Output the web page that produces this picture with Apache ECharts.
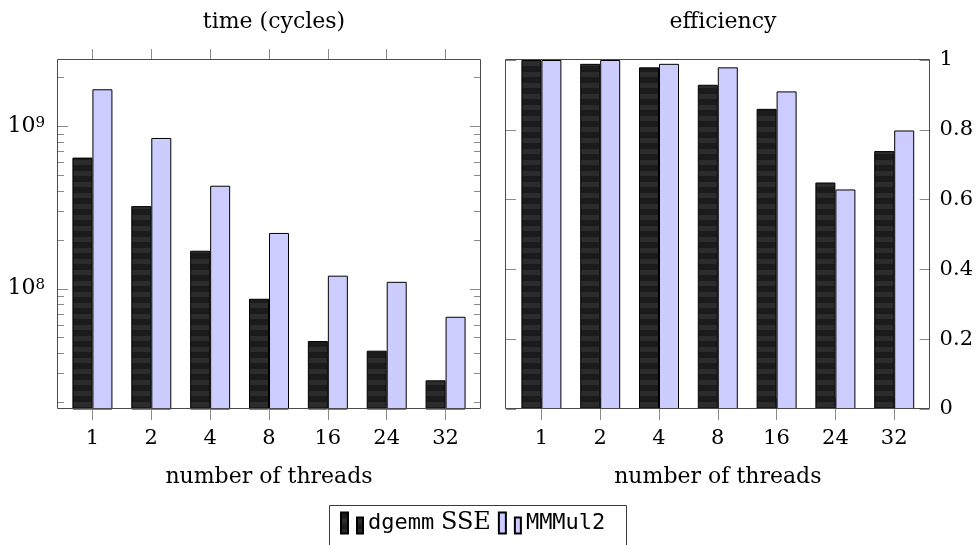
<!DOCTYPE html>
<html>
<head>
<meta charset="utf-8">
<script src="https://cdn.jsdelivr.net/npm/echarts@6/dist/echarts.min.js"></script>
<style>
  html, body { margin: 0; padding: 0; background: #ffffff; }
  #chart { width: 976px; height: 545px; }
</style>
</head>
<body>
<div id="chart"></div>
<script>
// Thread counts shown on both x axes
const threads = ['1', '2', '4', '8', '16', '24', '32'];

// Run time in cycles (log scale)
const timeDgemm = [6.41e8, 3.22e8, 1.71e8, 8.65e7, 4.75e7, 4.14e7, 2.72e7];
const timeMMMul = [1.69e9, 8.47e8, 4.30e8, 2.20e8, 1.20e8, 1.10e8, 6.70e7];

// Parallel efficiency
const effDgemm = [1.0, 0.989, 0.979, 0.929, 0.860, 0.649, 0.739];
const effMMMul = [1.0, 1.0, 0.989, 0.979, 0.910, 0.629, 0.798];

// Axis ranges and ticks
const timeRange = [1.81e7, 2.56e9];
const timeDecades = [7, 8, 9];
const effRange = [0, 1];
const effStep = 0.2;

const seriesNames = ['dgemm SSE', 'MMMul2'];

const SERIF = 'DejaVu Serif';
const MONO = 'DejaVu Sans Mono';
const FS = 21;
const NAME_FS = 22;
const TICK = '#8a8a8a';
const FRAME = '#4a4a4a';
const INSET = 6;

// Log-axis tick marks: k * 10^d inside the visible range
const timeTicks = [];
timeDecades.forEach(function (d) {
  for (let k = 1; k <= 9; k++) {
    const v = k * Math.pow(10, d);
    if (v >= timeRange[0] && v <= timeRange[1]) timeTicks.push([0, v, k === 1 ? 1 : 0]);
  }
});

// Horizontal stripe fill for the dark bars
function stripePattern() {
  const c = document.createElement('canvas');
  c.width = 4; c.height = 11;
  const g = c.getContext('2d');
  g.fillStyle = '#1b1b1b'; g.fillRect(0, 0, 4, 6);
  g.fillStyle = '#2c2c2c'; g.fillRect(0, 6, 4, 5);
  return c;
}
const darkFill = { image: stripePattern(), repeat: 'repeat' };

const darkStyle = { color: darkFill, borderColor: '#000', borderWidth: 1 };
const lightStyle = { color: '#ccccff', borderColor: '#000', borderWidth: 1 };

const grids = [
  { left: 63, top: 60, width: 412, height: 349 },
  { left: 512, top: 60, width: 412, height: 349 }
];

function catAxis(gridIndex, position, withLabels) {
  return {
    type: 'category',
    gridIndex: gridIndex,
    position: position,
    data: threads,
    axisLine: { show: false },
    axisTick: { show: true, alignWithLabel: true, inside: false, length: 11, lineStyle: { color: TICK, width: 1 } },
    axisLabel: withLabels
      ? { show: true, margin: 19, color: '#000', fontFamily: SERIF, fontSize: FS }
      : { show: false },
    splitLine: { show: false },
    name: withLabels ? 'number of threads' : '',
    nameLocation: 'middle',
    nameGap: 57,
    nameTextStyle: { color: '#000', fontFamily: SERIF, fontSize: NAME_FS }
  };
}

const chart = echarts.init(document.getElementById('chart'), null, { renderer: 'canvas' });

chart.setOption({
  animation: false,
  backgroundColor: '#ffffff',
  title: [
    { text: 'time (cycles)', left: 269, top: 6, textAlign: 'center',
      textStyle: { color: '#000', fontFamily: SERIF, fontSize: NAME_FS, fontWeight: 'normal' } },
    { text: 'efficiency', left: 718, top: 6, textAlign: 'center',
      textStyle: { color: '#000', fontFamily: SERIF, fontSize: NAME_FS, fontWeight: 'normal' } }
  ],
  grid: grids,
  legend: {
    data: seriesNames,
    left: 340,
    top: 511,
    padding: 0,
    itemGap: 7,
    itemWidth: 22,
    itemHeight: 21,
    icon: 'path://M0,0H7V21H0Z M16,5H22V21H16Z',
    textStyle: {
      color: '#000',
      fontFamily: SERIF,
      fontSize: FS,
      rich: {
        m: { fontFamily: MONO, fontSize: 22, color: '#000' },
        s: { fontFamily: SERIF, fontSize: 24, color: '#000' }
      }
    },
    formatter: function (name) {
      return name === 'dgemm SSE' ? '{m|dgemm} {s|SSE}' : '{m|' + name + '}';
    }
  },
  xAxis: [
    catAxis(0, 'bottom', true),
    catAxis(0, 'top', false),
    catAxis(1, 'bottom', true),
    catAxis(1, 'top', false)
  ],
  yAxis: [
    {
      type: 'log',
      logBase: 10,
      gridIndex: 0,
      position: 'left',
      offset: INSET,
      min: timeRange[0],
      max: timeRange[1],
      axisLine: { show: false },
      axisTick: { show: false },
      splitLine: { show: false },
      minorTick: { show: false },
      axisLabel: {
        show: true,
        margin: 12,
        showMinLabel: false,
        showMaxLabel: false,
        color: '#000',
        fontFamily: SERIF,
        formatter: function (v) {
          const e = Math.round(Math.log10(v));
          return '{b|10}{e|' + e + '}';
        },
        rich: {
          b: { fontFamily: SERIF, fontSize: 22, color: '#000', verticalAlign: 'bottom' },
          e: { fontFamily: SERIF, fontSize: 15, color: '#000', verticalAlign: 'top' }
        }
      }
    },
    {
      type: 'value',
      gridIndex: 1,
      position: 'right',
      offset: INSET,
      min: effRange[0],
      max: effRange[1],
      interval: effStep,
      axisLine: { show: false },
      axisTick: { show: true, inside: true, length: 10, lineStyle: { color: TICK, width: 1 } },
      splitLine: { show: false },
      axisLabel: { show: true, margin: 10, color: '#000', fontFamily: SERIF, fontSize: FS }
    },
    {
      type: 'value',
      gridIndex: 1,
      position: 'left',
      offset: INSET,
      min: effRange[0],
      max: effRange[1],
      interval: effStep,
      axisLine: { show: false },
      axisTick: { show: true, inside: true, length: 10, lineStyle: { color: TICK, width: 1 } },
      splitLine: { show: false },
      axisLabel: { show: false }
    }
  ],
  graphic: [
    { type: 'rect', z: 50, silent: true,
      shape: { x: 57.5, y: 59.5, width: 423, height: 349 },
      style: { fill: null, stroke: FRAME, lineWidth: 1 } },
    { type: 'rect', z: 50, silent: true,
      shape: { x: 505.5, y: 59.5, width: 424, height: 349 },
      style: { fill: null, stroke: FRAME, lineWidth: 1 } },
    { type: 'rect', z: 50, silent: true,
      shape: { x: 329.5, y: 505.5, width: 297, height: 70 },
      style: { fill: null, stroke: '#3a3a3a', lineWidth: 1 } }
  ],
  series: [
    {
      name: 'dgemm SSE', type: 'bar', xAxisIndex: 0, yAxisIndex: 0,
      data: timeDgemm, barWidth: 20, barGap: '0%', itemStyle: darkStyle, z: 3
    },
    {
      name: 'MMMul2', type: 'bar', xAxisIndex: 0, yAxisIndex: 0,
      data: timeMMMul, barWidth: 20, barGap: '0%', itemStyle: lightStyle, z: 3
    },
    {
      name: 'dgemm SSE', type: 'bar', xAxisIndex: 2, yAxisIndex: 1,
      data: effDgemm, barWidth: 20, barGap: '0%', itemStyle: darkStyle, z: 3
    },
    {
      name: 'MMMul2', type: 'bar', xAxisIndex: 2, yAxisIndex: 1,
      data: effMMMul, barWidth: 20, barGap: '0%', itemStyle: lightStyle, z: 3
    },
    {
      // log-scale tick marks on both sides of the time panel
      type: 'custom',
      xAxisIndex: 0,
      yAxisIndex: 0,
      z: 1,
      clip: false,
      silent: true,
      encode: { x: 0, y: 1 },
      data: timeTicks,
      renderItem: function (params, api) {
        const y = Math.round(api.coord([0, api.value(1)])[1]) + 0.5;
        const cs = params.coordSys;
        const len = api.value(2) ? 11 : 7;
        const xl = cs.x - INSET;
        const xr = cs.x + cs.width + INSET;
        const st = { stroke: TICK, lineWidth: 1 };
        return {
          type: 'group',
          children: [
            { type: 'line', shape: { x1: xl, y1: y, x2: xl + len, y2: y }, style: st },
            { type: 'line', shape: { x1: xr - len, y1: y, x2: xr, y2: y }, style: st }
          ]
        };
      }
    }
  ]
});
</script>
</body>
</html>
